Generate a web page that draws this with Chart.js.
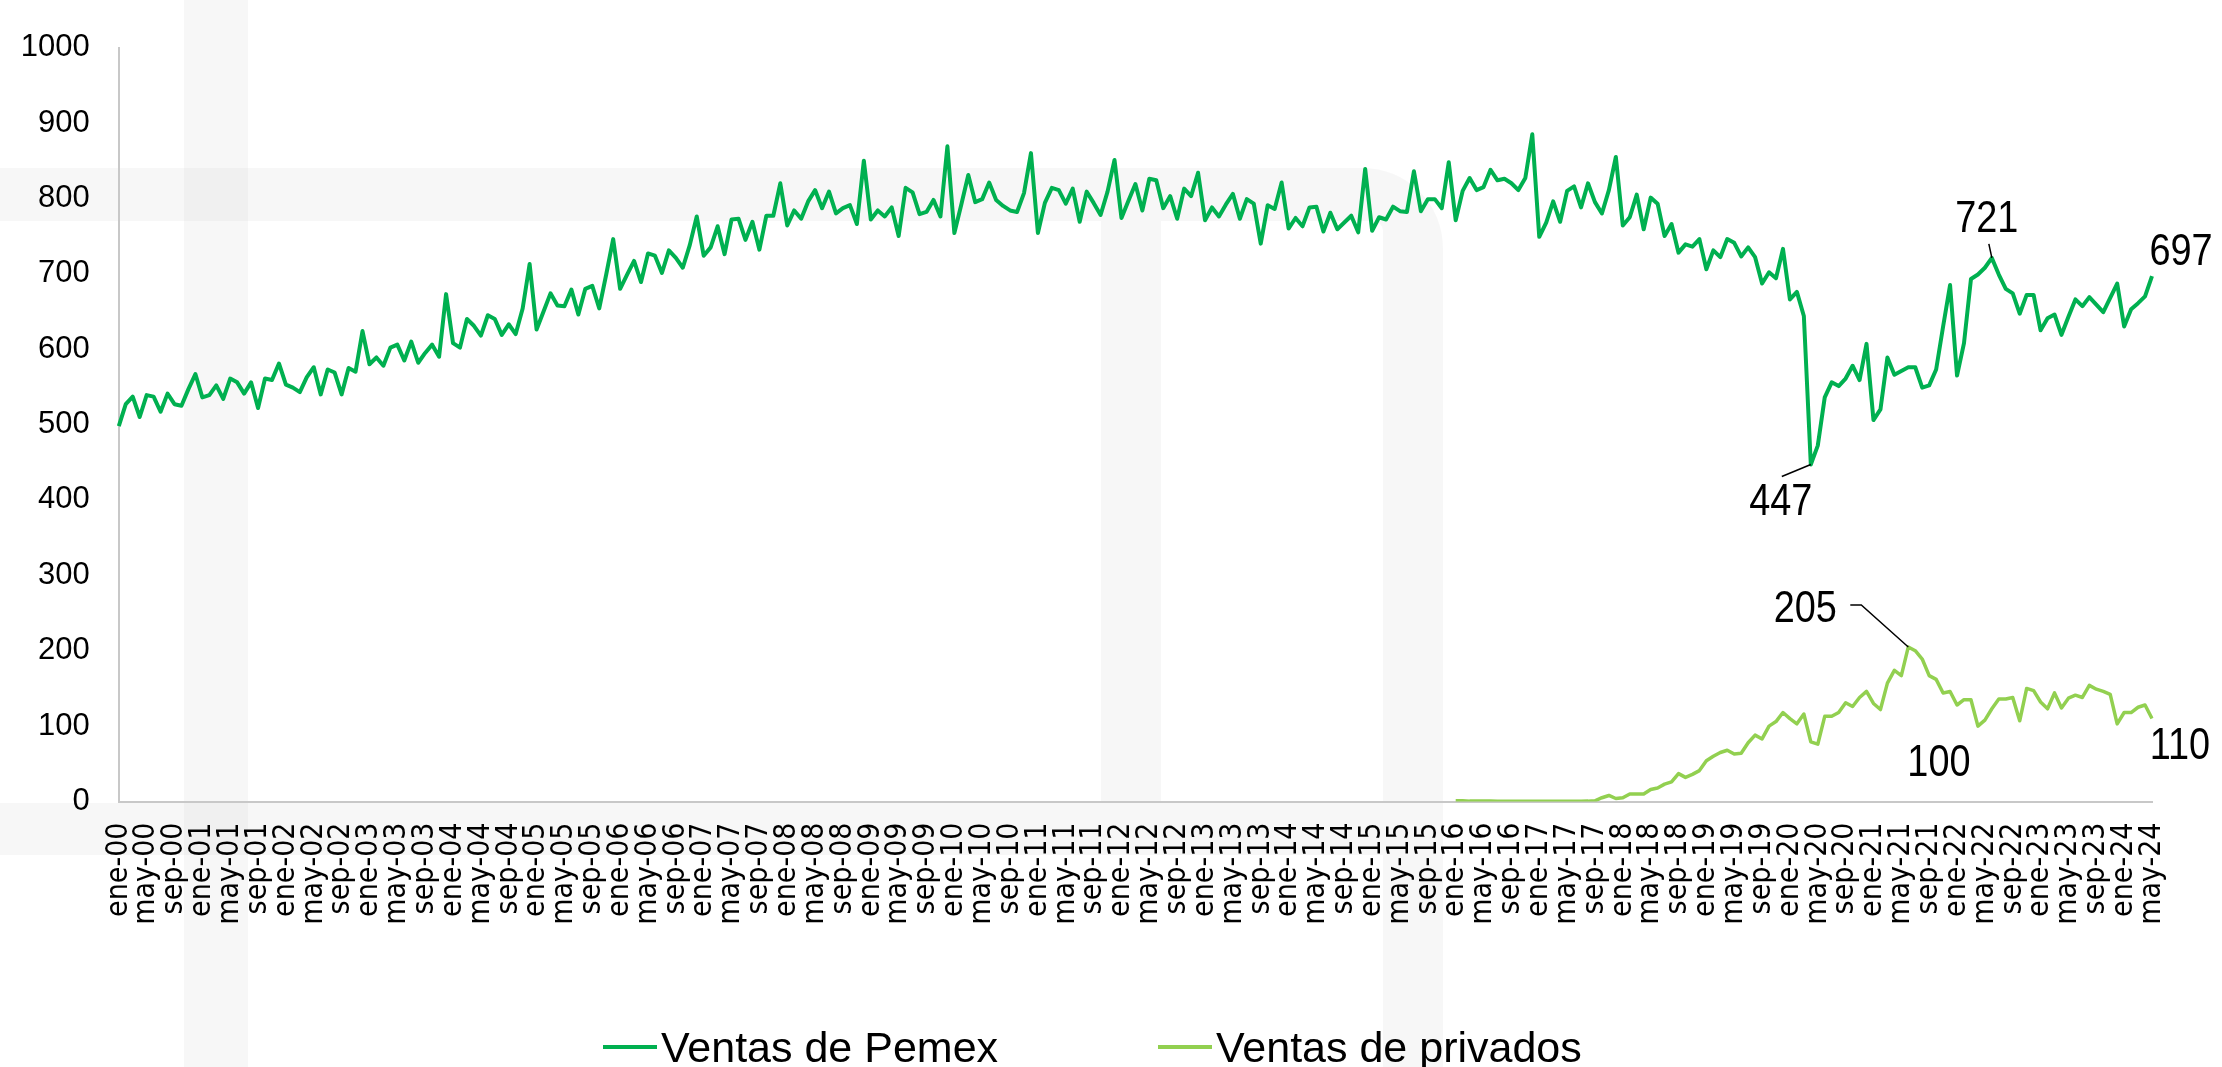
<!DOCTYPE html>
<html>
<head>
<meta charset="utf-8">
<script src="https://cdn.jsdelivr.net/npm/chart.js@4.4.1/dist/chart.umd.min.js"></script>
<style>html,body{margin:0;padding:0;background:#fff}canvas{display:block}</style>
</head>
<body>
<canvas id="c" width="2222" height="1067"></canvas>
<script>
// ---- data ----
const MONTHS = ['ene','feb','mar','abr','may','jun','jul','ago','sep','oct','nov','dic'];
const FIRST_YEAR = 0;      // 2000
const N_MONTHS = 293;      // ene-00 .. may-24
const PRIV_START = 192;    // ene-16

const pemex = [
 498,527,537,510,539,537,517,541,527,525,547,567,
 536,539,552,534,561,556,541,556,522,561,559,581,
 553,549,543,563,576,540,573,569,540,575,570,624,
 580,589,578,602,606,585,610,582,595,606,590,673,
 608,602,640,631,618,645,640,619,633,620,654,713,
 626,650,674,658,657,679,646,680,684,654,699,746,
 680,699,717,689,727,724,701,731,721,708,738,776,
 724,735,763,726,772,773,745,769,732,777,777,820,
 764,784,773,796,811,787,809,780,787,791,766,850,
 772,784,776,788,750,814,808,779,782,798,776,869,
 754,792,831,795,799,821,798,790,784,782,807,860,
 754,794,814,811,793,813,769,809,794,778,809,851,
 774,797,819,784,826,824,787,803,773,813,803,834,
 771,788,776,792,806,773,799,793,740,791,786,821,
 760,774,763,788,789,756,781,759,768,777,755,839,
 757,775,772,789,783,782,836,783,799,799,787,848,
 771,810,827,811,815,838,824,826,820,811,827,885,
 749,768,796,769,810,816,788,820,795,780,811,855,
 764,775,805,759,801,793,750,766,728,739,736,746,
 706,731,722,746,741,723,735,722,687,702,694,733,
 666,676,644,447,472,536,556,551,561,578,559,607,
 506,520,589,566,571,576,576,549,552,573,630,685,
 565,608,693,699,708,721,699,680,674,647,672,672,
 625,641,646,619,643,666,657,669,659,649,668,687,
 630,653,661,670,697
];

const privados = [
 1,1,0.5,0.5,0.5,0.5,0.3,0.3,0.3,0.3,0.3,0.3,
 0.3,0.3,0.3,0.3,0.3,0.3,0.3,0.5,1,5,8,4,
 5,10,10,10,16,18,23,26,37,32,36,41,
 54,60,65,68,63,64,78,88,83,100,106,118,
 110,103,116,79,76,113,113,118,131,126,138,146,
 130,122,157,174,167,205,200,189,167,162,144,146,
 128,135,135,100,108,123,136,136,138,107,150,147,
 132,123,144,124,137,141,138,154,149,146,142,103,
 118,118,125,128,110
];

const yTicks = [0,100,200,300,400,500,600,700,800,900,1000];

// ---- build tables ----
const categories = [];
for (let i = 0; i < N_MONTHS; i++) {
  const yy = FIRST_YEAR + Math.floor(i / 12);
  categories.push(MONTHS[i % 12] + '-' + String(yy).padStart(2, '0'));
}
const privFull = categories.map((_, i) => i < PRIV_START ? null : privados[i - PRIV_START]);

const SANS = "'Liberation Sans',Arial,sans-serif";
const COND = "'DejaVu Sans Condensed','DejaVu Sans',sans-serif";

// ---- plugins ----
const watermark = {
  id: 'watermark',
  beforeDraw(chart) {
    const ctx = chart.ctx;
    ctx.save();
    ctx.fillStyle = 'rgba(0,0,0,0.031)';
    ctx.fillRect(184, 0, 64, 1067);
    ctx.beginPath();
    ctx.moveTo(0, 168);
    ctx.lineTo(1363, 168);
    ctx.arcTo(1443, 168, 1443, 248, 80);
    ctx.lineTo(1443, 1067);
    ctx.lineTo(1383, 1067);
    ctx.lineTo(1383, 231);
    ctx.arcTo(1383, 221, 1373, 221, 10);
    ctx.lineTo(0, 221);
    ctx.closePath();
    ctx.fill();
    ctx.fillRect(1101, 221, 60, 582);
    ctx.fillRect(0, 803, 1383, 52);
    ctx.restore();
  }
};

const annotationList = [
  {ds: 0, idx: 243, dx: -30, dy: 35, leader: [[0, 0], [-29, 12]]},
  {ds: 0, idx: 269, dx: -5, dy: -42, leader: [[0, 0], [-3, -14]]},
  {ds: 0, idx: 292, dx: 29, dy: -27},
  {ds: 1, idx: 257, dx: -103, dy: -41, leader: [[0, 0], [-47, -42], [-58, -42]]},
  {ds: 1, idx: 267, dx: -39, dy: 34},
  {ds: 1, idx: 292, dx: 28, dy: 25}
];

const annotate = {
  id: 'annotate',
  afterDatasetsDraw(chart) {
    const ctx = chart.ctx;
    ctx.save();
    annotationList.forEach(a => {
      const pt = chart.getDatasetMeta(a.ds).data[a.idx];
      const val = chart.data.datasets[a.ds].data[a.idx];
      if (a.leader) {
        ctx.beginPath();
        ctx.strokeStyle = '#000';
        ctx.lineWidth = 1.5;
        a.leader.forEach((p, k) => {
          const x = pt.x + p[0], y = pt.y + p[1];
          if (k === 0) ctx.moveTo(x, y); else ctx.lineTo(x, y);
        });
        ctx.stroke();
      }
      const size = 44;
      ctx.save();
      ctx.translate(pt.x + a.dx, pt.y + a.dy + size * 0.36);
      ctx.scale(0.86, 1);
      ctx.font = size + 'px ' + SANS;
      ctx.fillStyle = '#000';
      ctx.textAlign = 'center';
      ctx.textBaseline = 'alphabetic';
      ctx.fillText(String(Math.round(val)), 0, 0);
      ctx.restore();
    });
    ctx.restore();
  }
};

const legendItems = [
  {ds: 0, x: 603},
  {ds: 1, x: 1158}
];
const customLegend = {
  id: 'customLegend',
  afterDraw(chart) {
    const ctx = chart.ctx;
    ctx.save();
    legendItems.forEach(it => {
      const d = chart.data.datasets[it.ds];
      ctx.beginPath();
      ctx.strokeStyle = d.borderColor;
      ctx.lineWidth = 4;
      ctx.moveTo(it.x, 1047);
      ctx.lineTo(it.x + 54, 1047);
      ctx.stroke();
      ctx.font = '43px ' + SANS;
      ctx.fillStyle = '#000';
      ctx.textAlign = 'left';
      ctx.textBaseline = 'alphabetic';
      ctx.fillText(d.label, it.x + 58, 1062);
    });
    ctx.restore();
  }
};

// ---- chart ----
new Chart(document.getElementById('c').getContext('2d'), {
  type: 'line',
  data: {
    labels: categories,
    datasets: [
      {label: 'Ventas de Pemex', data: pemex, borderColor: '#00B050', backgroundColor: '#00B050',
       borderWidth: 4, pointRadius: 0, tension: 0, fill: false, borderJoinStyle: 'round'},
      {label: 'Ventas de privados', data: privFull, borderColor: '#92D050', backgroundColor: '#92D050',
       borderWidth: 3.5, pointRadius: 0, tension: 0, fill: false, spanGaps: false, borderJoinStyle: 'round'}
    ]
  },
  options: {
    responsive: false,
    devicePixelRatio: 1,
    animation: false,
    events: [],
    layout: {padding: {top: 32, right: 70, bottom: 0, left: 0}},
    plugins: {legend: {display: false}, tooltip: {enabled: false}},
    scales: {
      x: {
        type: 'category',
        offset: false,
        grid: {display: false, drawTicks: false},
        border: {display: true, color: '#C8C8C8', width: 2},
        ticks: {
          autoSkip: false, maxRotation: 90, minRotation: 90, padding: 21,
          color: '#000', font: {family: COND, size: 30},
          callback: function (v, i) { return i % 4 === 0 ? this.getLabelForValue(v) : null; }
        },
        afterFit: s => { s.height = 265.5; }
      },
      y: {
        min: yTicks[0], max: yTicks[yTicks.length - 1],
        afterBuildTicks: s => { s.ticks = yTicks.map(v => ({value: v})); },
        grid: {display: false, drawTicks: false},
        border: {display: true, color: '#C8C8C8', width: 2},
        ticks: {padding: 29, color: '#000', font: {family: SANS, size: 31},
                callback: v => String(v)},
        afterFit: s => { s.width = 118.8; }
      }
    }
  },
  plugins: [watermark, annotate, customLegend]
});
</script>
</body>
</html>
